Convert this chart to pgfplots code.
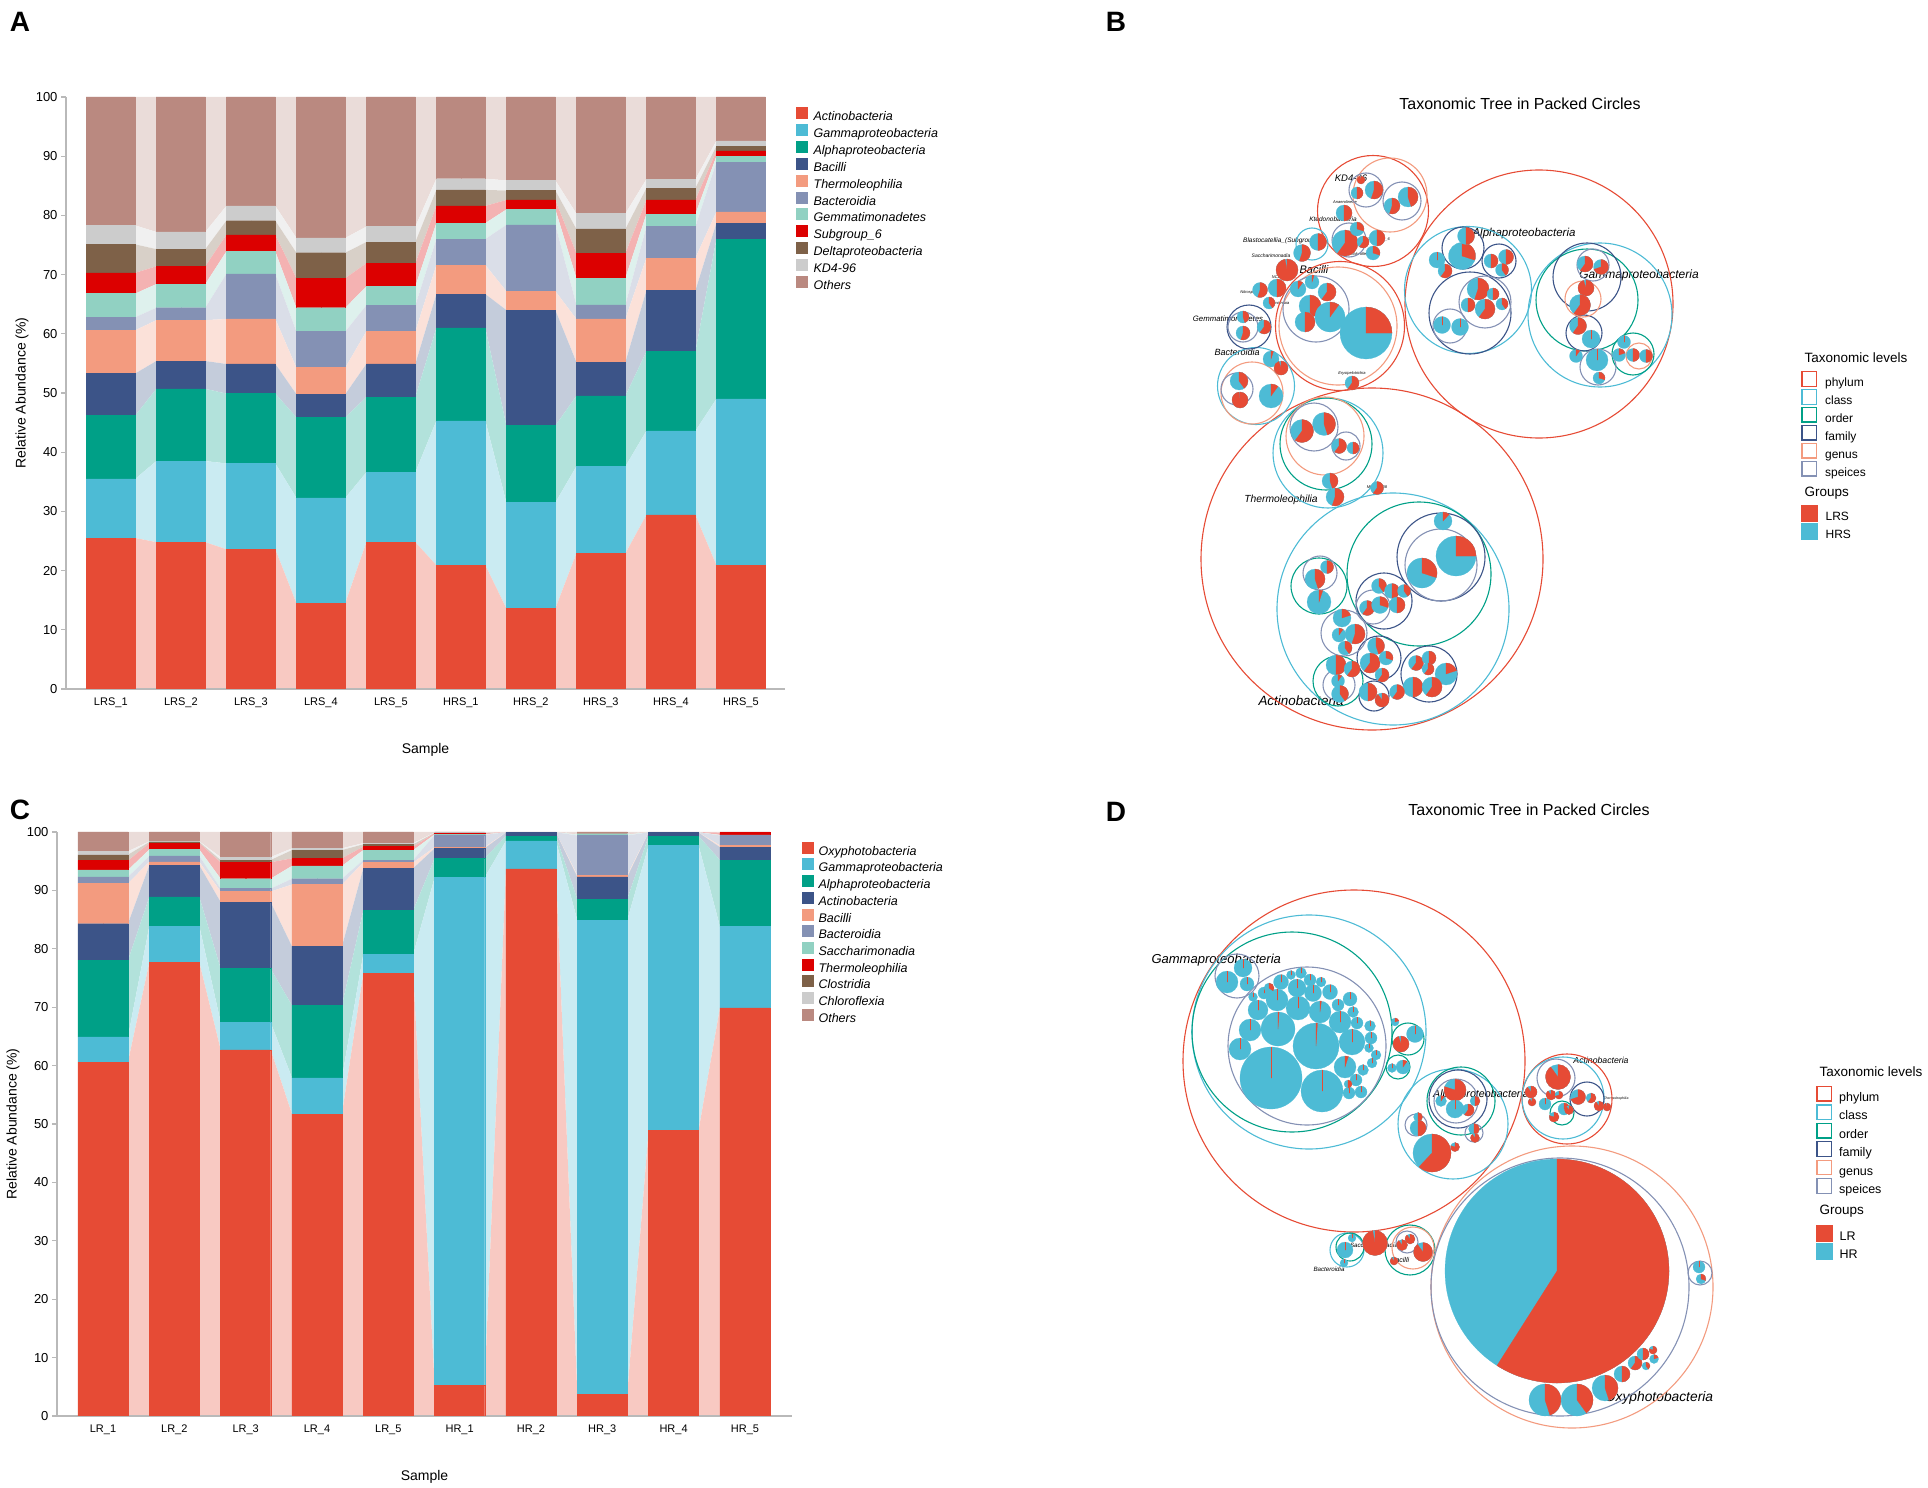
\documentclass[border=0pt]{standalone}
\usepackage{fontspec}
\setmainfont{Liberation Sans}
\usepackage{pgfplots}
\pgfplotsset{compat=1.18}
\usepackage{pgfplotstable}

\newcommand\fsz[1]{\fontsize{#1}{#1}\selectfont}

% npg-like palette
\definecolor{nA}{HTML}{E64B35}
\definecolor{nB}{HTML}{4DBBD5}
\definecolor{nC}{HTML}{00A087}
\definecolor{nD}{HTML}{3C5488}
\definecolor{nE}{HTML}{F39B7F}
\definecolor{nF}{HTML}{8491B4}
\definecolor{nG}{HTML}{91D1C2}
\definecolor{nH}{HTML}{DC0000}
\definecolor{nI}{HTML}{7E6148}
\definecolor{nJ}{HTML}{CCCCCC}
\definecolor{nK}{HTML}{BA8980}

% legend squares
\newcommand\sqimg[1]{\addlegendimage{legend image code/.code={\fill[#1] (0pt,-1.2pt) rectangle (11pt,9.8pt);}}}
\newcommand\boximg[1]{\addlegendimage{legend image code/.code={\draw[#1, line width=1.3pt] (0.7pt,-3.2pt) rectangle (15.3pt,11.4pt);}}}
\newcommand\grpimg[1]{\addlegendimage{legend image code/.code={\fill[#1] (0pt,-3.9pt) rectangle (16pt,12.1pt);}}}

\pgfplotsset{
  ring/.style={scatter, only marks, mark=o, line width=1.1pt,
    scatter/use mapped color={draw=#1},
    visualization depends on={\thisrow{r} \as \prad},
    scatter/@pre marker code/.append style={/tikz/mark size=\prad}},
  pie/.style={scatter, only marks, mark=*, line width=0.2pt,
    scatter/use mapped color={draw=nB, fill=nB},
    visualization depends on={\thisrow{r} \as \prad},
    visualization depends on={\thisrow{f} \as \pfrac},
    scatter/@pre marker code/.append style={/tikz/mark size=\prad},
    scatter/@post marker code/.code={\fill[nA] (0pt,0pt) -- (0pt,\prad pt) arc[start angle=90, delta angle=-360*\pfrac, radius=\prad pt] -- cycle;\endscope}},
  barax/.style={scale only axis, ymin=0, ymax=100,
    axis x line*=bottom, axis y line*=left,
    axis line style={draw=gray!55, line width=1.5pt},
    tick align=outside, major tick length=5pt,
    y tick style={draw=gray!55, line width=1.2pt},
    x tick style={draw=none},
    xtick={0,...,9}, ytick={0,10,...,100},
    xticklabel style={font=\fsz{11}},
    yticklabel style={font=\fsz{13}},
    /pgf/number format/assume math mode=true,
    ybar stacked, bar width=0.352,
    legend cell align=left},
}

% panel A: class level, LRS / HRS (each sample twice: left and right half of the bar)
\pgfplotstableread{
xb xe Actino Gamma Alpha Bacilli Thermo Bactero Gemmat Subg Delta KD Others
-0.175 -0.35 25.5 10.0 10.7 7.1 7.3 2.2 4.0 3.5 4.8 3.2 21.7
0.175 0.35 25.5 10.0 10.7 7.1 7.3 2.2 4.0 3.5 4.8 3.2 21.7
0.825 0.65 24.8 13.7 12.2 4.7 6.9 2.1 4.0 3.0 2.9 2.9 22.8
1.175 1.35 24.8 13.7 12.2 4.7 6.9 2.1 4.0 3.0 2.9 2.9 22.8
1.825 1.65 23.6 14.5 11.8 5.0 7.6 7.6 3.8 2.8 2.4 2.5 18.4
2.175 2.35 23.6 14.5 11.8 5.0 7.6 7.6 3.8 2.8 2.4 2.5 18.4
2.825 2.65 14.5 17.8 13.6 3.9 4.5 6.1 4.0 5.0 4.3 2.5 23.8
3.175 3.35 14.5 17.8 13.6 3.9 4.5 6.1 4.0 5.0 4.3 2.5 23.8
3.825 3.65 24.8 11.8 12.7 5.6 5.5 4.4 3.2 3.9 3.6 2.6 21.9
4.175 4.35 24.8 11.8 12.7 5.6 5.5 4.4 3.2 3.9 3.6 2.6 21.9
4.825 4.65 20.9 24.4 15.7 5.7 4.9 4.4 2.7 2.9 2.7 1.9 13.8
5.175 5.35 20.9 24.4 15.7 5.7 4.9 4.4 2.7 2.9 2.7 1.9 13.8
5.825 5.65 13.6 17.9 13.0 19.5 3.2 11.2 2.6 1.6 1.6 1.7 14.1
6.175 6.35 13.6 17.9 13.0 19.5 3.2 11.2 2.6 1.6 1.6 1.7 14.1
6.825 6.65 22.9 14.7 11.9 5.7 7.3 2.4 4.5 4.2 4.1 2.6 19.7
7.175 7.35 22.9 14.7 11.9 5.7 7.3 2.4 4.5 4.2 4.1 2.6 19.7
7.825 7.65 29.4 14.2 13.4 10.3 5.5 5.3 2.1 2.4 2.0 1.5 13.9
8.175 8.35 29.4 14.2 13.4 10.3 5.5 5.3 2.1 2.4 2.0 1.5 13.9
8.825 8.65 20.9 28.1 27.0 2.7 1.9 8.4 1.0 0.9 0.8 0.9 7.4
9.175 9.35 20.9 28.1 27.0 2.7 1.9 8.4 1.0 0.9 0.8 0.9 7.4
}\dataA

% panel C: class level, LR / HR
\pgfplotstableread{
xb xe Oxy Gamma Alpha Actino Bacilli Bactero Sacch Thermo Clostr Chloro Others
-0.175 -0.35 60.6 4.3 13.1 6.3 6.9 1.1 1.2 1.6 1.0 0.6 3.3
0.175 0.35 60.6 4.3 13.1 6.3 6.9 1.1 1.2 1.6 1.0 0.6 3.3
0.825 0.65 77.7 6.2 5.0 5.4 0.6 1.0 1.1 1.1 0.2 0.1 1.6
1.175 1.35 77.7 6.2 5.0 5.4 0.6 1.0 1.1 1.1 0.2 0.1 1.6
1.825 1.65 62.7 4.7 9.2 11.4 1.8 0.5 1.7 2.8 0.4 0.5 4.3
2.175 2.35 62.7 4.7 9.2 11.4 1.8 0.5 1.7 2.8 0.4 0.5 4.3
2.825 2.65 51.7 6.2 12.4 10.1 10.6 1.0 2.2 1.3 1.4 0.3 2.8
3.175 3.35 51.7 6.2 12.4 10.1 10.6 1.0 2.2 1.3 1.4 0.3 2.8
3.825 3.65 75.8 3.3 7.5 7.2 1.0 0.4 1.7 0.6 0.4 0.2 1.9
4.175 4.35 75.8 3.3 7.5 7.2 1.0 0.4 1.7 0.6 0.4 0.2 1.9
4.825 4.65 5.2 87.0 3.3 1.7 0.2 2.1 0.1 0.2 0.05 0.05 0.1
5.175 5.35 5.2 87.0 3.3 1.7 0.2 2.1 0.1 0.2 0.05 0.05 0.1
5.825 5.65 93.7 4.8 0.8 0.6 0.03 0.02 0.02 0.01 0.01 0.01 0.0
6.175 6.35 93.7 4.8 0.8 0.6 0.03 0.02 0.02 0.01 0.01 0.01 0.0
6.825 6.65 3.7 81.2 3.6 3.8 0.3 6.8 0.2 0.05 0.05 0.05 0.25
7.175 7.35 3.7 81.2 3.6 3.8 0.3 6.8 0.2 0.05 0.05 0.05 0.25
7.825 7.65 48.9 48.8 1.6 0.6 0.02 0.02 0.02 0.02 0.01 0.01 0.0
8.175 8.35 48.9 48.8 1.6 0.6 0.02 0.02 0.02 0.02 0.01 0.01 0.0
8.825 8.65 69.9 13.9 11.4 2.2 0.3 1.7 0.1 0.4 0.03 0.03 0.04
9.175 9.35 69.9 13.9 11.4 2.2 0.3 1.7 0.1 0.4 0.03 0.03 0.04
}\dataC

% packed circles, in picture pixels: x y radius level(1 phylum .. 6 species)
\pgfplotstableread{
x y r l
1372 559 171 1
1539 304 134 1
1340 326 64.5 1
1373 211 55.5 1
1393 609 116 2
1328 453 55 2
1468 290 63.5 2
1600 315 72 2
1312 244 16 2
1256 386 38.5 2
1419 574 72 3
1319 586 28 3
1338 681 25 3
1326 444 46 3
1587 300 51 3
1633 354 21 3
1441 557 44 4
1384 601 28 4
1379 658 22 4
1429 674 28 4
1374 696 15 4
1463 248 21 4
1499 261 17 4
1470 313 41 4
1587 277 34 4
1584 333 18 4
1249 327 22 4
1338 326 59 5
1390 195 37 5
1325 436 39 5
1583 299 18 5
1639 356 13 5
1252 393 31 5
1441 565 36 6
1320 573 17 6
1373 607 17 6
1344 633 23 6
1339 685 16 6
1314 427 24 6
1346 446 14 6
1485 302 26 6
1450 326 17 6
1593 265 16 6
1598 367 18 6
1366 190 17 6
1402 201 19 6
1349 240 17 6
1316 309 33 6
1243 327 15 6
1237 389 16 6
}\ringsB

% leaf pies: x y radius share of LRS
\pgfplotstableread{
x y r f
1456 556 20 0.25
1422 573 15 0.3
1443 521 9 0.12
1315 579 10 0.45
1327 567 6.5 0.5
1319 602 12 0.05
1379 586 7.5 0.4
1392 591 7.5 0.5
1404 591 6.5 0.4
1367 608 7.5 0.6
1380 605 8.5 0.3
1397 605 8 0.5
1342 618 9 0.2
1355 634 10 0.55
1339 635 7 0.1
1345 648 7 0.4
1376 646 8.5 0.45
1370 663 10 0.6
1386 658 7 0.3
1382 675 7 0.6
1416 663 7.5 0.6
1429 658 7 0.5
1428 669 6 0.6
1446 674 11 0.2
1413 687 10 0.5
1432 687 10 0.6
1336 665 10 0.5
1352 669 8 0.6
1338 681 6.5 0.1
1340 694 8.5 0.4
1368 692 9 0.5
1382 700 7 0.9
1397 692 7.5 0.6
1302 431 11.5 0.6
1324 424 11.5 0.45
1339 446 7.5 0.6
1353 448 6 0.5
1330 481 8 0.45
1335 497 9 0.55
1377 488 6.5 0.6
1366 333 26 0.25
1310 306 11 0.5
1327 292 9 0.6
1330 317 15 0.1
1305 322 10 0.5
1298 289 8 0.1
1312 282 7 0.05
1352 383 7 0.6
1357 193 6 0.5
1374 190 9 0.55
1361 180 4 0.95
1392 206 8 0.55
1408 197 10 0.45
1345 243 13 0.6
1357 229 7 0.3
1344 213 8 0.5
1363 242 6 0.6
1377 238 8 0.5
1373 253 7 0.3
1318 242 8.5 0.5
1302 253 8.5 0.55
1287 270 11 0.97
1277 288 9 0.5
1260 290 7.5 0.55
1269 303 6 0.4
1243 333 7 0.55
1264 327 7 0.6
1243 317 6 0.45
1239 381 9 0.4
1240 400 8 0.98
1271 396 12 0.1
1271 359 8 0.05
1281 368 7 0.95
1462 256 13.5 0.3
1466 236 8.5 0.5
1437 260 8 0
1445 271 7 0.6
1491 261 7 0.5
1506 257 7.5 0.5
1502 270 6.5 0.4
1478 289 11 0.55
1485 309 10 0.6
1493 294 6 0.5
1468 305 7 0.5
1502 304 6 0.4
1442 325 8.5 0
1460 327 8.5 0
1585 264 8 0.6
1601 267 7.5 0.7
1586 288 8 0.95
1580 305 10.5 0.6
1578 326 8.5 0.6
1591 339 9 0
1619 355 6.5 0.2
1633 355 6.5 0.5
1646 356 6.5 0.5
1624 342 6.5 0
1597 360 11 0
1599 378 6 0.3
1576 356 6.5 0.1
}\piesB

\pgfplotstableread{
x y r l
1354 1061 171 1
1567 1099 45 1
1309 1032 117 2
1453 1124 55 2
1563 1098 41 2
1347 1250 17 2
1292 1032 100 3
1408 1039 16 3
1398 1067 12 3
1461 1101 34 3
1562 1113 12 3
1350 1247 14 3
1410 1250 25 3
1458 1099 29 4
1587 1099 17 4
1572 1287 141 5
1413 1248 21 5
1307 1046 79 6
1237 976 22 6
1456 1101 22 6
1474 1133 9 6
1416 1125 11 6
1556 1078 19 6
1560 1287 129 6
1700 1273 12 6
1407 1242 11 6
}\ringsD

\pgfplotstableread{
x y r f
1271 1078 31 0
1316 1046 23 0.01
1322 1091 21 0
1278 1029 17 0.01
1240 1049 11 0
1250 1030 11 0
1258 1010 10 0
1277 1000 11 0
1298 1008 12 0
1320 1012 11 0.02
1340 1022 11 0
1352 1042 13 0
1345 1067 11 0.05
1297 988 9 0
1313 993 8.5 0
1281 982 7.5 0
1264 993 6 0
1330 992 7.5 0
1321 982 5 0
1338 1005 6 0
1350 999 7 0
1353 1012 5.5 0
1357 1023 6 0
1370 1026 5.5 0
1371 1038 6 0
1376 1055 5 0
1369 1048 4.5 0
1372 1063 5 0
1363 1070 5.5 0
1356 1080 6 0
1361 1092 6 0
1349 1093 6 0
1348 1084 4 0.5
1310 980 6 0
1301 973 5.5 0
1291 975 4.5 0
1269 988 5 0.35
1253 997 4.5 0
1227 982 11 0
1243 968 9 0
1247 984 7 0
1401 1044 8 0.95
1415 1034 8.5 0
1395 1022 4 0.2
1403 1067 7 0.1
1392 1068 4.5 0
1455 1090 11 0.8
1455 1109 9 0
1468 1110 6 0.6
1475 1101 5 0.5
1441 1101 5.5 0.1
1474 1129 5.5 0.5
1475 1138 4.5 0.9
1418 1128 8 0.5
1418 1117 4.5 0.5
1432 1153 19 0.62
1455 1147 4.5 0.8
1558 1077 12.5 0.9
1578 1097 7.5 0.7
1591 1098 5 0.6
1599 1106 5 0.9
1607 1107 4 0.95
1531 1092 6 0.9
1532 1102 4 0.9
1545 1104 6 0
1551 1095 5 0.9
1559 1095 4 0.7
1564 1109 6 0.3
1554 1117 5 0.8
1569 1110 4.5 0.9
1557 1271 112 0.59
1545 1400 16 0.45
1577 1400 16 0.4
1605 1388 13 0.45
1622 1374 8 0.5
1635 1363 7 0.6
1643 1354 6 0.5
1646 1366 4 0.4
1653 1350 4 0.8
1654 1359 4.5 0.2
1699 1267 6 0
1701 1279 5 0.3
1345 1250 8 0
1352 1238 4 0
1344 1263 4 0
1375 1243 12.5 0.97
1402 1245 5.5 0.9
1410 1239 5 0.9
1423 1252 9.5 0.9
1394 1261 4 0.9
}\piesD

\begin{document}
\begin{tikzpicture}
\useasboundingbox (0,0) rectangle (1928pt,1488pt);

% ---------- canvas for B and D (units = picture pixels, y downwards)
\begin{axis}[at={(0pt,0pt)}, anchor=south west, x=1pt, y=1pt, y dir=reverse,
  xmin=0, xmax=1928, ymin=0, ymax=1488, hide axis, clip=false]
\addplot[ring=nA, restrict expr to domain={\thisrow{l}}{1:1}] table[x=x,y=y]{\ringsB};
\addplot[ring=nB, restrict expr to domain={\thisrow{l}}{2:2}] table[x=x,y=y]{\ringsB};
\addplot[ring=nC, restrict expr to domain={\thisrow{l}}{3:3}] table[x=x,y=y]{\ringsB};
\addplot[ring=nD, restrict expr to domain={\thisrow{l}}{4:4}] table[x=x,y=y]{\ringsB};
\addplot[ring=nE, restrict expr to domain={\thisrow{l}}{5:5}] table[x=x,y=y]{\ringsB};
\addplot[ring=nF, restrict expr to domain={\thisrow{l}}{6:6}] table[x=x,y=y]{\ringsB};
\addplot[pie] table[x=x,y=y]{\piesB};

\addplot[ring=nA, restrict expr to domain={\thisrow{l}}{1:1}] table[x=x,y=y]{\ringsD};
\addplot[ring=nB, restrict expr to domain={\thisrow{l}}{2:2}] table[x=x,y=y]{\ringsD};
\addplot[ring=nC, restrict expr to domain={\thisrow{l}}{3:3}] table[x=x,y=y]{\ringsD};
\addplot[ring=nD, restrict expr to domain={\thisrow{l}}{4:4}] table[x=x,y=y]{\ringsD};
\addplot[ring=nE, restrict expr to domain={\thisrow{l}}{5:5}] table[x=x,y=y]{\ringsD};
\addplot[ring=nF, restrict expr to domain={\thisrow{l}}{6:6}] table[x=x,y=y]{\ringsD};
\addplot[pie] table[x=x,y=y]{\piesD};

% panel letters
\node[font=\fsz{28}\bfseries] at (axis cs:20,22) {A};
\node[font=\fsz{28}\bfseries] at (axis cs:1116,22) {B};
\node[font=\fsz{28}\bfseries] at (axis cs:20,810) {C};
\node[font=\fsz{28}\bfseries] at (axis cs:1116,812) {D};

% B texts
\node[font=\fsz{16}] at (axis cs:1520,104) {Taxonomic Tree in Packed Circles};
\node[font=\fsz{9.5}\itshape] at (axis cs:1351,178) {KD4-96};
\node[font=\fsz{11.5}\itshape] at (axis cs:1524,234) {Alphaproteobacteria};
\node[font=\fsz{12}\itshape] at (axis cs:1639,275) {Gammaproteobacteria};
\node[font=\fsz{11}\itshape] at (axis cs:1314,270) {Bacilli};
\node[font=\fsz{6.5}\itshape] at (axis cs:1284,241) {Blastocatellia\_(Subgroup\_4)};
\node[font=\fsz{6.5}\itshape] at (axis cs:1333,219) {Ktedonobacteria};
\node[font=\fsz{5}\itshape] at (axis cs:1271,256) {Saccharimonadia};
\node[font=\fsz{7.8}\itshape] at (axis cs:1228,319) {Gemmatimonadetes};
\node[font=\fsz{9}\itshape] at (axis cs:1237,352) {Bacteroidia};
\node[font=\fsz{10.3}\itshape] at (axis cs:1281,500) {Thermoleophilia};
\node[font=\fsz{13.4}\itshape] at (axis cs:1301,701) {Actinobacteria};
\node[font=\fsz{4}\itshape] at (axis cs:1345,202) {Anaerolineae};
\node[font=\fsz{4}\itshape] at (axis cs:1249,292) {Nitrospira};
\node[font=\fsz{4}\itshape] at (axis cs:1277,303) {Longimicrobia};
\node[font=\fsz{4}\itshape] at (axis cs:1361,254) {Chloroflexia};
\node[font=\fsz{4}\itshape] at (axis cs:1379,239) {Subgroup\_6};
\node[font=\fsz{4}\itshape] at (axis cs:1377,487) {MB-A2-108};
\node[font=\fsz{4}\itshape] at (axis cs:1352,373) {Erysipelotrichia};
\node[font=\fsz{4}\itshape] at (axis cs:1277,277) {NC10};
\node[font=\fsz{13.5}, anchor=west] at (axis cs:1801,358) {Taxonomic levels};
\node[font=\fsz{13.5}, anchor=west] at (axis cs:1801,493) {Groups};

% D texts
\node[font=\fsz{16}] at (axis cs:1529,810) {Taxonomic Tree in Packed Circles};
\node[font=\fsz{13}\itshape, anchor=west] at (axis cs:1148,960) {Gammaproteobacteria};
\node[font=\fsz{10.7}\itshape] at (axis cs:1481,1095) {Alphaproteobacteria};
\node[font=\fsz{8.7}\itshape] at (axis cs:1601,1060) {Actinobacteria};
\node[font=\fsz{3.5}\itshape] at (axis cs:1616,1099) {Thermoleophilia};
\node[font=\fsz{13.8}\itshape] at (axis cs:1659,1398) {Oxyphotobacteria};
\node[font=\fsz{6.2}\itshape] at (axis cs:1374,1245) {Saccharimonadia};
\node[font=\fsz{7}\itshape] at (axis cs:1400,1260) {Bacilli};
\node[font=\fsz{6.2}\itshape] at (axis cs:1329,1269) {Bacteroidia};
\node[font=\fsz{13.5}, anchor=west] at (axis cs:1816,1072) {Taxonomic levels};
\node[font=\fsz{13.5}, anchor=west] at (axis cs:1816,1211) {Groups};
\end{axis}

% ---------- legends of B and D
\begin{axis}[at={(1801pt,1117.2pt)}, anchor=north west, scale only axis, width=1pt, height=1pt,
  hide axis, xmin=0, xmax=1, ymin=0, ymax=1, legend cell align=left,
  legend style={at={(0,1)}, anchor=north west, draw=none, fill=none, inner sep=0pt, row sep=-1.6pt,
    font=\fsz{12}, nodes={inner ysep=0pt, inner xsep=8pt, text height=11pt, text depth=4pt}}]
\boximg{nA}\addlegendentry{phylum}
\boximg{nB}\addlegendentry{class}
\boximg{nC}\addlegendentry{order}
\boximg{nD}\addlegendentry{family}
\boximg{nE}\addlegendentry{genus}
\boximg{nF}\addlegendentry{speices}
\end{axis}
\begin{axis}[at={(1801pt,983.4pt)}, anchor=north west, scale only axis, width=1pt, height=1pt,
  hide axis, xmin=0, xmax=1, ymin=0, ymax=1, legend cell align=left,
  legend style={at={(0,1)}, anchor=north west, draw=none, fill=none, inner sep=0pt, row sep=-1.6pt,
    font=\fsz{12}, nodes={inner ysep=0pt, inner xsep=8pt, text height=11pt, text depth=4pt}}]
\grpimg{nA}\addlegendentry{LRS}
\grpimg{nB}\addlegendentry{HRS}
\end{axis}
\begin{axis}[at={(1816pt,402.4pt)}, anchor=north west, scale only axis, width=1pt, height=1pt,
  hide axis, xmin=0, xmax=1, ymin=0, ymax=1, legend cell align=left,
  legend style={at={(0,1)}, anchor=north west, draw=none, fill=none, inner sep=0pt, row sep=-1.1pt,
    font=\fsz{12.5}, nodes={inner ysep=0pt, inner xsep=7pt, text height=11pt, text depth=4pt}}]
\boximg{nA}\addlegendentry{phylum}
\boximg{nB}\addlegendentry{class}
\boximg{nC}\addlegendentry{order}
\boximg{nD}\addlegendentry{family}
\boximg{nE}\addlegendentry{genus}
\boximg{nF}\addlegendentry{speices}
\end{axis}
\begin{axis}[at={(1816pt,263.4pt)}, anchor=north west, scale only axis, width=1pt, height=1pt,
  hide axis, xmin=0, xmax=1, ymin=0, ymax=1, legend cell align=left,
  legend style={at={(0,1)}, anchor=north west, draw=none, fill=none, inner sep=0pt, row sep=-1.6pt,
    font=\fsz{12.5}, nodes={inner ysep=0pt, inner xsep=7pt, text height=11pt, text depth=4pt}}]
\grpimg{nA}\addlegendentry{LR}
\grpimg{nB}\addlegendentry{HR}
\end{axis}

% ---------- panel A: bands
\begin{axis}[at={(66pt,799pt)}, anchor=south west, scale only axis, width=719pt, height=592pt,
  xmin=-0.64, xmax=9.63, ymin=0, ymax=100, hide axis, stack plots=y]
\addplot[fill=nA!30, draw=none] table[x=xe,y=Actino]{\dataA} \closedcycle;
\addplot[fill=nB!30, draw=none] table[x=xe,y=Gamma]{\dataA} \closedcycle;
\addplot[fill=nC!30, draw=none] table[x=xe,y=Alpha]{\dataA} \closedcycle;
\addplot[fill=nD!30, draw=none] table[x=xe,y=Bacilli]{\dataA} \closedcycle;
\addplot[fill=nE!30, draw=none] table[x=xe,y=Thermo]{\dataA} \closedcycle;
\addplot[fill=nF!30, draw=none] table[x=xe,y=Bactero]{\dataA} \closedcycle;
\addplot[fill=nG!30, draw=none] table[x=xe,y=Gemmat]{\dataA} \closedcycle;
\addplot[fill=nH!30, draw=none] table[x=xe,y=Subg]{\dataA} \closedcycle;
\addplot[fill=nI!30, draw=none] table[x=xe,y=Delta]{\dataA} \closedcycle;
\addplot[fill=nJ!30, draw=none] table[x=xe,y=KD]{\dataA} \closedcycle;
\addplot[fill=nK!30, draw=none] table[x=xe,y=Others]{\dataA} \closedcycle;
\end{axis}
% panel A: bars
\begin{axis}[barax, at={(66pt,799pt)}, anchor=south west, width=719pt, height=592pt,
  xmin=-0.64, xmax=9.63,
  xticklabels={LRS\_1,LRS\_2,LRS\_3,LRS\_4,LRS\_5,HRS\_1,HRS\_2,HRS\_3,HRS\_4,HRS\_5},
  xlabel={Sample}, ylabel={Relative Abundance (\%)},
  every axis x label/.style={at={(axis description cs:0.5,-0.103)}, anchor=center, font=\fsz{14}},
  every axis y label/.style={at={(axis description cs:-0.0612,0.5)}, anchor=center, rotate=90, font=\fsz{14}},
  legend style={at={(1.0153,0.9834)}, anchor=north west, draw=none, fill=none, inner sep=0pt, row sep=-0.6pt,
    font=\fsz{12.5}\itshape, nodes={inner ysep=0pt, inner xsep=6pt, text height=11pt, text depth=4pt}}]
\addplot[fill=nA, draw=nA, line width=0.3pt, forget plot] table[x=xb,y=Actino]{\dataA};
\addplot[fill=nB, draw=nB, line width=0.3pt, forget plot] table[x=xb,y=Gamma]{\dataA};
\addplot[fill=nC, draw=nC, line width=0.3pt, forget plot] table[x=xb,y=Alpha]{\dataA};
\addplot[fill=nD, draw=nD, line width=0.3pt, forget plot] table[x=xb,y=Bacilli]{\dataA};
\addplot[fill=nE, draw=nE, line width=0.3pt, forget plot] table[x=xb,y=Thermo]{\dataA};
\addplot[fill=nF, draw=nF, line width=0.3pt, forget plot] table[x=xb,y=Bactero]{\dataA};
\addplot[fill=nG, draw=nG, line width=0.3pt, forget plot] table[x=xb,y=Gemmat]{\dataA};
\addplot[fill=nH, draw=nH, line width=0.3pt, forget plot] table[x=xb,y=Subg]{\dataA};
\addplot[fill=nI, draw=nI, line width=0.3pt, forget plot] table[x=xb,y=Delta]{\dataA};
\addplot[fill=nJ, draw=nJ, line width=0.3pt, forget plot] table[x=xb,y=KD]{\dataA};
\addplot[fill=nK, draw=nK, line width=0.3pt, forget plot] table[x=xb,y=Others]{\dataA};
\sqimg{nA}\addlegendentry{Actinobacteria}
\sqimg{nB}\addlegendentry{Gammaproteobacteria}
\sqimg{nC}\addlegendentry{Alphaproteobacteria}
\sqimg{nD}\addlegendentry{Bacilli}
\sqimg{nE}\addlegendentry{Thermoleophilia}
\sqimg{nF}\addlegendentry{Bacteroidia}
\sqimg{nG}\addlegendentry{Gemmatimonadetes}
\sqimg{nH}\addlegendentry{Subgroup\_6}
\sqimg{nI}\addlegendentry{Deltaproteobacteria}
\sqimg{nJ}\addlegendentry{KD4-96}
\sqimg{nK}\addlegendentry{Others}
\end{axis}

% ---------- panel C: bands
\begin{axis}[at={(57pt,72pt)}, anchor=south west, scale only axis, width=735pt, height=584pt,
  xmin=-0.645, xmax=9.66, ymin=0, ymax=100, hide axis, stack plots=y]
\addplot[fill=nA!30, draw=none] table[x=xe,y=Oxy]{\dataC} \closedcycle;
\addplot[fill=nB!30, draw=none] table[x=xe,y=Gamma]{\dataC} \closedcycle;
\addplot[fill=nC!30, draw=none] table[x=xe,y=Alpha]{\dataC} \closedcycle;
\addplot[fill=nD!30, draw=none] table[x=xe,y=Actino]{\dataC} \closedcycle;
\addplot[fill=nE!30, draw=none] table[x=xe,y=Bacilli]{\dataC} \closedcycle;
\addplot[fill=nF!30, draw=none] table[x=xe,y=Bactero]{\dataC} \closedcycle;
\addplot[fill=nG!30, draw=none] table[x=xe,y=Sacch]{\dataC} \closedcycle;
\addplot[fill=nH!30, draw=none] table[x=xe,y=Thermo]{\dataC} \closedcycle;
\addplot[fill=nI!30, draw=none] table[x=xe,y=Clostr]{\dataC} \closedcycle;
\addplot[fill=nJ!30, draw=none] table[x=xe,y=Chloro]{\dataC} \closedcycle;
\addplot[fill=nK!30, draw=none] table[x=xe,y=Others]{\dataC} \closedcycle;
\end{axis}
% panel C: bars
\begin{axis}[barax, at={(57pt,72pt)}, anchor=south west, width=735pt, height=584pt,
  xmin=-0.645, xmax=9.66,
  xticklabels={LR\_1,LR\_2,LR\_3,LR\_4,LR\_5,HR\_1,HR\_2,HR\_3,HR\_4,HR\_5},
  xlabel={Sample}, ylabel={Relative Abundance (\%)},
  every axis x label/.style={at={(axis description cs:0.5,-0.1045)}, anchor=center, font=\fsz{14}},
  every axis y label/.style={at={(axis description cs:-0.0599,0.5)}, anchor=center, rotate=90, font=\fsz{14}},
  legend style={at={(1.0136,0.9837)}, anchor=north west, draw=none, fill=none, inner sep=0pt, row sep=-0.8pt,
    font=\fsz{12.5}\itshape, nodes={inner ysep=0pt, inner xsep=5pt, text height=11pt, text depth=4pt}}]
\addplot[fill=nA, draw=nA, line width=0.3pt, forget plot] table[x=xb,y=Oxy]{\dataC};
\addplot[fill=nB, draw=nB, line width=0.3pt, forget plot] table[x=xb,y=Gamma]{\dataC};
\addplot[fill=nC, draw=nC, line width=0.3pt, forget plot] table[x=xb,y=Alpha]{\dataC};
\addplot[fill=nD, draw=nD, line width=0.3pt, forget plot] table[x=xb,y=Actino]{\dataC};
\addplot[fill=nE, draw=nE, line width=0.3pt, forget plot] table[x=xb,y=Bacilli]{\dataC};
\addplot[fill=nF, draw=nF, line width=0.3pt, forget plot] table[x=xb,y=Bactero]{\dataC};
\addplot[fill=nG, draw=nG, line width=0.3pt, forget plot] table[x=xb,y=Sacch]{\dataC};
\addplot[fill=nH, draw=nH, line width=0.3pt, forget plot] table[x=xb,y=Thermo]{\dataC};
\addplot[fill=nI, draw=nI, line width=0.3pt, forget plot] table[x=xb,y=Clostr]{\dataC};
\addplot[fill=nJ, draw=nJ, line width=0.3pt, forget plot] table[x=xb,y=Chloro]{\dataC};
\addplot[fill=nK, draw=nK, line width=0.3pt, forget plot] table[x=xb,y=Others]{\dataC};
\sqimg{nA}\addlegendentry{Oxyphotobacteria}
\sqimg{nB}\addlegendentry{Gammaproteobacteria}
\sqimg{nC}\addlegendentry{Alphaproteobacteria}
\sqimg{nD}\addlegendentry{Actinobacteria}
\sqimg{nE}\addlegendentry{Bacilli}
\sqimg{nF}\addlegendentry{Bacteroidia}
\sqimg{nG}\addlegendentry{Saccharimonadia}
\sqimg{nH}\addlegendentry{Thermoleophilia}
\sqimg{nI}\addlegendentry{Clostridia}
\sqimg{nJ}\addlegendentry{Chloroflexia}
\sqimg{nK}\addlegendentry{Others}
\end{axis}
\end{tikzpicture}
\end{document}
